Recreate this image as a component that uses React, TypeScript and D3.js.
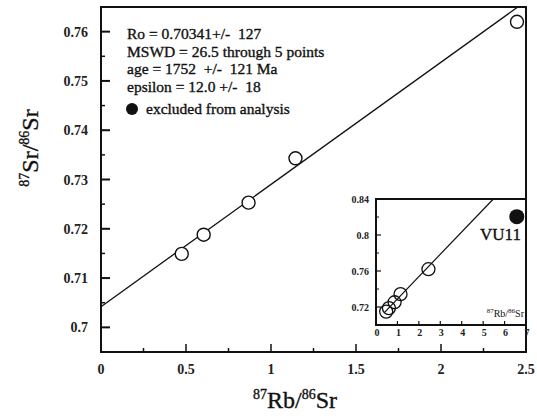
import React from 'react';
import * as d3 from 'd3';

// isochron data (87Rb/86Sr, 87Sr/86Sr)
const rbSr = [0.475, 0.604, 0.868, 1.144, 2.447];
const srSr = [0.7149, 0.7188, 0.7253, 0.7343, 0.762];
// excluded sample VU11 (shown only in inset)
const excludedRb = [6.57];
const excludedSr = [0.8204];
const excludedLabel = ['VU11'];

// fitted line
const fitIntercept = 0.7042;
const fitSlope = 0.0248;

const xTicks = [0, 0.5, 1, 1.5, 2, 2.5];
const xTickLabels = ['0', '0.5', '1', '1.5', '2', '2.5'];
const xMinor = [0.25, 0.75, 1.25, 1.75, 2.25];
const yTicks = [0.7, 0.71, 0.72, 0.73, 0.74, 0.75, 0.76];
const yTickLabels = ['0.7', '0.71', '0.72', '0.73', '0.74', '0.75', '0.76'];
const yMinor = [0.695, 0.705, 0.715, 0.725, 0.735, 0.745, 0.755];

const insetXTicks = [0, 1, 2, 3, 4, 5, 6, 7];
const insetYTicks = [0.72, 0.76, 0.8, 0.84];
const insetYTickLabels = ['0.72', '0.76', '0.8', '0.84'];
const insetYMinor = [0.7, 0.74, 0.78, 0.82];

const statsLines = [
  'Ro = 0.70341+/-  127',
  'MSWD = 26.5 through 5 points',
  'age = 1752  +/-  121 Ma',
  'epsilon = 12.0 +/-  18',
];
const legendText = 'excluded from analysis';

const font = '"Liberation Serif", "Times New Roman", serif';

const App = () => {
  const W = 537;
  const H = 419;

  const x = d3.scaleLinear().domain([0, 2.5]).range([101, 526]);
  const y = d3.scaleLinear().domain([0.695, 0.765]).range([352, 7]);

  const ix = d3.scaleLinear().domain([0, 7]).range([376, 526]);
  const iy = d3.scaleLinear().domain([0.7, 0.84]).range([325, 199]);

  const pts = rbSr.map((r, i) => [r, srSr[i]]);

  const line = d3
    .line<number>()
    .x((d) => x(d))
    .y((d) => y(fitIntercept + fitSlope * d));
  const xEnd = (0.765 - fitIntercept) / fitSlope;

  const iLine = d3
    .line<number>()
    .x((d) => ix(d))
    .y((d) => iy(fitIntercept + fitSlope * d));
  const ixEnd = (0.84 - fitIntercept) / fitSlope;

  // scanned print looks heavy: thicken glyphs a little
  const ink = { fill: '#111', stroke: '#111', strokeWidth: 0.35 };

  return (
    <svg
      width={W}
      height={H}
      style={{ position: 'absolute', left: 0, top: 0, background: '#fff' }}
      fontFamily={font}
    >
      {/* main frame */}
      <rect x={x(0)} y={y(0.765)} width={x(2.5) - x(0)} height={y(0.695) - y(0.765)}
        fill="none" stroke="#111" strokeWidth={2} />

      {/* y ticks */}
      {yTicks.map((t, i) => (
        <g key={'yt' + i}>
          <line x1={x(0)} x2={x(0) + 9} y1={y(t)} y2={y(t)} stroke="#111" strokeWidth={2} />
          <text x={88} y={y(t) + 5} textAnchor="end" fontSize={14} fontWeight="bold" fill="#222">
            {yTickLabels[i]}
          </text>
        </g>
      ))}
      {yMinor.map((t, i) => (
        <line key={'ym' + i} x1={x(0)} x2={x(0) + 4} y1={y(t)} y2={y(t)} stroke="#111" strokeWidth={1.5} />
      ))}

      {/* x ticks */}
      {xTicks.map((t, i) => (
        <g key={'xt' + i}>
          <line x1={x(t)} x2={x(t)} y1={y(0.695)} y2={y(0.695) - 8} stroke="#111" strokeWidth={1.5} />
          <text x={x(t)} y={374} textAnchor="middle" fontSize={14} fontWeight="bold" fill="#222">
            {xTickLabels[i]}
          </text>
        </g>
      ))}
      {xMinor.map((t, i) => (
        <line key={'xm' + i} x1={x(t)} x2={x(t)} y1={y(0.695)} y2={y(0.695) - 4} stroke="#111" strokeWidth={1.5} />
      ))}

      {/* regression line */}
      <path d={line([0, xEnd]) || ''} fill="none" stroke="#111" strokeWidth={1.3} />

      {/* data points */}
      {pts.map((p, i) => (
        <circle key={'p' + i} cx={x(p[0])} cy={y(p[1])} r={6.5} fill="#fff" stroke="#111" strokeWidth={1.4} />
      ))}

      {/* stats text */}
      {statsLines.map((s, i) => (
        <text key={'s' + i} x={127} y={39 + i * 17.7} fontSize={15.5} {...ink} style={{ whiteSpace: 'pre' }}>
          {s}
        </text>
      ))}
      <circle cx={132} cy={109} r={6} fill="#111" />
      <text x={146} y={114} fontSize={15.5} {...ink}>{legendText}</text>

      {/* axis titles */}
      <text x={295} y={408} textAnchor="middle" fontSize={24} {...ink}>
        <tspan fontSize={14} dy={-9}>87</tspan>
        <tspan dy={9}>Rb/</tspan>
        <tspan fontSize={14} dy={-9}>86</tspan>
        <tspan dy={9}>Sr</tspan>
      </text>
      <text transform="translate(38,148) rotate(-90)" textAnchor="middle" fontSize={24} {...ink}>
        <tspan fontSize={14} dy={-9}>87</tspan>
        <tspan dy={9}>Sr/</tspan>
        <tspan fontSize={14} dy={-9}>86</tspan>
        <tspan dy={9}>Sr</tspan>
      </text>

      {/* inset */}
      <rect x={ix(0)} y={iy(0.84)} width={ix(7) - ix(0)} height={iy(0.7) - iy(0.84)}
        fill="#fff" stroke="#111" strokeWidth={2} />
      {insetYTicks.map((t, i) => (
        <g key={'iyt' + i}>
          <line x1={ix(0)} x2={ix(0) + 5} y1={iy(t)} y2={iy(t)} stroke="#111" strokeWidth={1.2} />
          <text x={369} y={iy(t) + 3.5} textAnchor="end" fontSize={10} fontWeight="bold" fill="#222">
            {insetYTickLabels[i]}
          </text>
        </g>
      ))}
      {insetYMinor.map((t, i) => (
        <line key={'iym' + i} x1={ix(0)} x2={ix(0) + 3} y1={iy(t)} y2={iy(t)} stroke="#111" strokeWidth={1} />
      ))}
      {insetXTicks.map((t, i) => (
        <g key={'ixt' + i}>
          <line x1={ix(t)} x2={ix(t)} y1={iy(0.7)} y2={iy(0.7) - 4} stroke="#111" strokeWidth={1.2} />
          <text x={ix(t) + 1} y={336} textAnchor="middle" fontSize={10} fontWeight="bold" fill="#222">
            {t}
          </text>
        </g>
      ))}
      <path d={iLine([0.4, ixEnd]) || ''} fill="none" stroke="#111" strokeWidth={1.2} />
      {pts.map((p, i) => (
        <circle key={'ip' + i} cx={ix(p[0])} cy={iy(p[1])} r={6.5} fill="none" stroke="#111" strokeWidth={1.3} />
      ))}
      {excludedRb.map((r, i) => (
        <g key={'ex' + i}>
          <circle cx={ix(r)} cy={iy(excludedSr[i])} r={7.5} fill="#111" />
          <text x={521} y={240} textAnchor="end" fontSize={17} {...ink}>{excludedLabel[i]}</text>
        </g>
      ))}
      <text x={524} y={317} textAnchor="end" fontSize={10} fill="#111">
        <tspan fontSize={7} dy={-4}>87</tspan>
        <tspan dy={4}>Rb/</tspan>
        <tspan fontSize={7} dy={-4}>86</tspan>
        <tspan dy={4}>Sr</tspan>
      </text>
    </svg>
  );
};

export default App;
